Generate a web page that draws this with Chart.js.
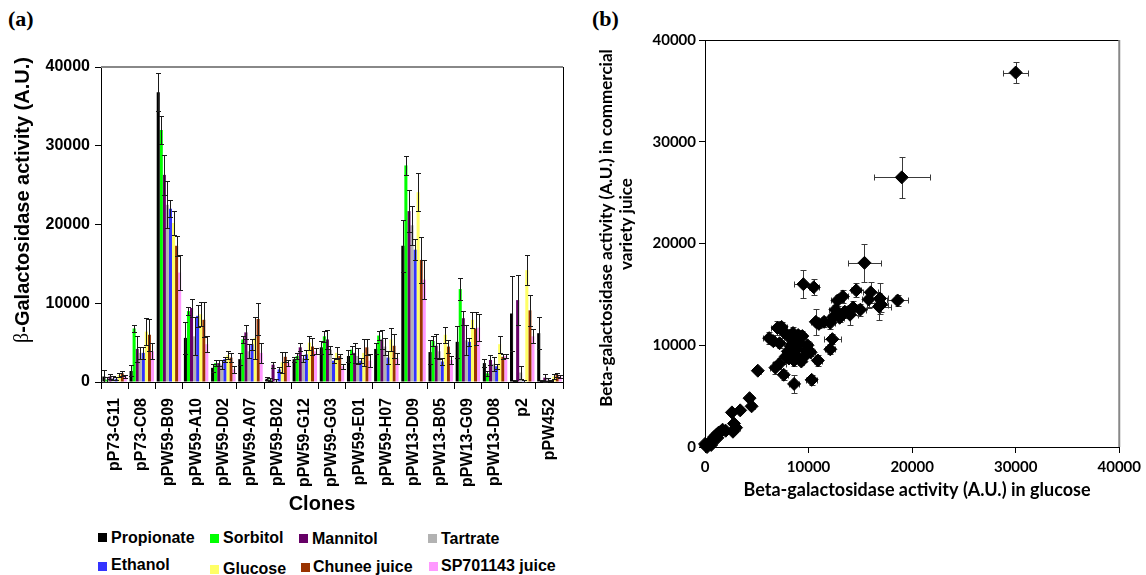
<!DOCTYPE html>
<html>
<head>
<meta charset="utf-8">
<script src="https://cdn.jsdelivr.net/npm/chart.js@4.4.1/dist/chart.umd.min.js"></script>
<style>
  body { margin: 0; background: #fff; width: 1146px; height: 575px; position: relative; overflow: hidden; }
  canvas { position: absolute; top: 0; }
  #chartA { left: 0; }
  #chartB { left: 580px; }
  .panel { position: absolute; top: 6px; font: bold 22px "Liberation Serif", "Times New Roman", serif; }
  .legend-item { position: absolute; font: bold 16px "Liberation Sans", Arial, sans-serif; line-height: 16px; white-space: nowrap; }
  .swatch { position: absolute; width: 9px; height: 9px; }
</style>
</head>
<body>
<div class="panel" style="left:8px">(a)</div>
<div class="panel" style="left:592px">(b)</div>
<canvas id="chartA" width="580" height="520"></canvas>
<canvas id="chartB" width="566" height="520"></canvas>
<div id="legendA"></div>
<script>
// Panel (a): clones and carbon sources
const clones = ['pP73-G11', 'pP73-C08', 'pPW59-B09', 'pPW59-A10', 'pPW59-D02', 'pPW59-A07', 'pPW59-B02',
    'pPW59-G12', 'pPW59-G03', 'pPW59-E01', 'pPW59-H07', 'pPW13-D09', 'pPW13-B05', 'pPW13-G09', 'pPW13-D08', 'p2', 'pPW452'];
const sources = ['Propionate', 'Sorbitol', 'Mannitol', 'Tartrate', 'Ethanol', 'Glucose', 'Chunee juice', 'SP701143 juice'];
const sourceColors = ['#000000', '#00ff00', '#660066', '#b2b2b2', '#3333ff', '#ffff66', '#993300', '#ff99ff'];

const propionate    = [700, 1400, 36800, 5600, 1800, 2900, 400, 2900, 4400, 3300, 4200, 17300, 3800, 5100, 2400, 8700, 6200];
const propionateErr = [800, 700, 2400, 2000, 500, 800, 200, 300, 800, 800, 700, 3300, 1500, 2000, 500, 4700, 2000];
const sorbitol      = [300, 6800, 32000, 9000, 2400, 5400, 300, 3300, 5800, 4100, 5900, 27500, 5200, 11800, 1100, 200, 200];
const sorbitolErr   = [300, 400, 1800, 500, 400, 500, 200, 400, 700, 500, 600, 1200, 600, 1400, 300, 100, 100];
const mannitol      = [700, 4200, 26300, 9400, 2400, 6300, 2200, 4400, 5400, 3700, 5400, 21700, 4600, 8100, 2800, 10400, 550];
const mannitolErr   = [300, 1600, 2500, 1200, 400, 900, 400, 500, 1200, 1300, 1200, 2700, 1500, 900, 600, 3200, 500];
const tartrate      = [500, 3700, 22500, 5800, 2200, 3900, 200, 3000, 4100, 3300, 4500, 19900, 3900, 5300, 2300, 1200, 350];
const tartrateErr   = [300, 800, 3000, 2400, 600, 900, 200, 400, 500, 1000, 1100, 2500, 1000, 1900, 900, 800, 200];
const ethanol       = [400, 3700, 22000, 8400, 2900, 4800, 1600, 3500, 2700, 2700, 3100, 16800, 2600, 5100, 2000, 100, 200];
const ethanolErr    = [200, 800, 1100, 1400, 300, 700, 300, 600, 300, 300, 800, 1300, 500, 500, 300, 100, 100];
const glucose       = [900, 6400, 20200, 8600, 3400, 5600, 2500, 5000, 3700, 3700, 5400, 24100, 6000, 7900, 4800, 14200, 700];
const glucoseErr    = [300, 1700, 1500, 1500, 500, 2700, 1300, 900, 800, 1700, 1400, 2400, 1000, 1000, 1100, 1900, 300];
const chunee        = [1100, 6000, 17300, 7900, 3100, 8000, 3200, 4500, 3300, 4400, 4600, 15500, 4500, 6800, 3200, 9100, 900];
const chuneeErr     = [300, 2000, 1300, 2200, 600, 2000, 600, 1100, 300, 1000, 1500, 2900, 800, 2100, 300, 2000, 300];
const sp701143      = [700, 3900, 13900, 4800, 1600, 3700, 2400, 3900, 2000, 2700, 3000, 13000, 2800, 6900, 3300, 5800, 700];
const sp701143Err   = [200, 1000, 2200, 1000, 400, 1300, 400, 400, 300, 800, 700, 2500, 500, 1700, 200, 900, 200];

const seriesValues = [propionate, sorbitol, mannitol, tartrate, ethanol, glucose, chunee, sp701143];
const seriesErrors = [propionateErr, sorbitolErr, mannitolErr, tartrateErr, ethanolErr, glucoseErr, chuneeErr, sp701143Err];
const activityTicks = [0, 10000, 20000, 30000, 40000];

// Panel (b): glucose vs commercial juice, one point per clone
const glucoseX = [30000, 19000, 15400, 9500, 10500, 18600, 16900, 15800, 14600, 16000, 12800, 16800, 14000, 13500, 14300,
    12600, 11500, 10700, 12100, 13000, 15000, 12300, 12100, 10900, 10300, 8600, 7600, 6800, 7200, 5100,
    6200, 7000, 7400, 7200, 8100, 8600, 9100, 8300, 8000, 8800, 8600, 9600, 9700, 9400, 7800,
    9900, 8500, 9000, 6600, 8800, 4300, 4500, 3400, 2600, 3000, 2800, 1700, 1300, 900, 500,
    100, 300, 700, 1100, 1500, 200, 0, 600, 2000, 1200, 11000, 13300, 17000, 12400, 9300,
    8100, 10200, 7600, 8400, 2700];
const juiceY = [36800, 26500, 18100, 16000, 15700, 14400, 14600, 14500, 15400, 15200, 14400, 13800, 13000, 13300, 13700,
    13500, 12300, 12300, 12200, 12700, 13500, 10600, 9600, 8500, 6600, 6200, 7100, 7800, 8200, 7500,
    10700, 11700, 11800, 10200, 10800, 10500, 10200, 9900, 9400, 9000, 8500, 8900, 9500, 10900, 8900,
    10000, 11200, 11000, 10400, 9600, 4800, 4000, 3600, 3400, 1900, 2300, 1700, 1400, 1000, 500,
    100, 300, 700, 1200, 1500, 0, 300, 200, 1600, 900, 12100, 14800, 14000, 12800, 8400,
    8700, 9300, 11300, 10100, 1500];
const glucoseXErr = [1200, 2700, 1600, 900, 500, 1000, 800, 600, 500, 700, 600, 1200, 800, 600, 500,
    600, 600, 500, 500, 400, 500, 800, 500, 400, 500, 500, 400, 500, 600, 300,
    600, 600, 500, 400, 500, 600, 400, 500, 300, 300, 500, 600, 400, 400, 400,
    400, 500, 400, 400, 400, 300, 300, 300, 200, 400, 300, 200, 200, 100, 100,
    50, 100, 100, 100, 100, 50, 50, 100, 200, 100, 400, 500, 700, 500, 300,
    300, 400, 400, 300, 200];
const juiceYErr = [1000, 2000, 1900, 1400, 800, 500, 1500, 800, 700, 1000, 500, 1300, 1000, 600, 600,
    500, 500, 1300, 600, 400, 600, 500, 500, 500, 500, 900, 500, 600, 500, 300,
    600, 700, 500, 500, 800, 600, 600, 600, 500, 500, 500, 500, 400, 500, 500,
    400, 600, 500, 400, 400, 300, 300, 200, 200, 300, 300, 200, 200, 100, 100,
    50, 100, 100, 100, 100, 50, 50, 100, 200, 100, 400, 600, 700, 400, 300,
    300, 400, 400, 300, 200];

const SANS = '"Liberation Sans", Arial, sans-serif';
const CAL = 'Lato, "Open Sans", sans-serif';
const plainNumber = v => String(v);

// Legend for panel (a), two rows of four
const legendSlots = [
    [98, 533, 111, 530], [210, 534, 223, 530], [299, 534, 312, 531], [428, 534, 441, 531],
    [98, 562, 111, 557], [210, 565, 223, 561], [301, 563, 313, 559], [429, 562, 441, 558]
];
const legendBox = document.getElementById('legendA');
sources.forEach((name, i) => {
    const [mx, my, tx, ty] = legendSlots[i];
    legendBox.innerHTML += `<div class="swatch" style="left:${mx}px;top:${my}px;background:${sourceColors[i]}"></div>` +
        `<div class="legend-item" style="left:${tx}px;top:${ty}px">${name}</div>`;
});

// Draw rotated text made of differently styled parts, centred on (cx, cy)
function drawVertical(ctx, parts, cx, cy) {
    ctx.save();
    ctx.translate(cx, cy);
    ctx.rotate(-Math.PI / 2);
    let total = 0;
    parts.forEach(p => { ctx.font = p.font; p.w = ctx.measureText(p.text).width; total += p.w; });
    let x = -total / 2;
    ctx.textBaseline = 'middle';
    ctx.textAlign = 'left';
    ctx.fillStyle = '#000';
    parts.forEach(p => { ctx.font = p.font; ctx.fillText(p.text, x, 0); x += p.w; });
    ctx.restore();
}

const panelADecor = {
    id: 'panelADecor',
    afterDatasetsDraw(chart) {
        const { ctx, scales: { y } } = chart;
        ctx.save();
        ctx.strokeStyle = '#1a1a1a';
        ctx.lineWidth = 1;
        chart.data.datasets.forEach((ds, i) => {
            const meta = chart.getDatasetMeta(i);
            meta.data.forEach((bar, j) => {
                const v = ds.data[j], e = ds.errors[j];
                const x = Math.round(bar.x) + 0.5;
                const yt = Math.round(y.getPixelForValue(v + e)) + 0.5;
                const yb = Math.round(y.getPixelForValue(Math.max(v - e, 0))) + 0.5;
                ctx.beginPath();
                ctx.moveTo(x, yt); ctx.lineTo(x, yb);
                ctx.moveTo(x - 2.5, yt); ctx.lineTo(x + 2.5, yt);
                ctx.moveTo(x - 2.5, yb); ctx.lineTo(x + 2.5, yb);
                ctx.stroke();
            });
        });
        ctx.restore();
    },
    afterDraw(chart) {
        const { ctx, chartArea: a } = chart;
        ctx.save();
        ctx.lineWidth = 2;
        ctx.strokeStyle = '#888';
        ctx.beginPath(); ctx.moveTo(a.left, a.top); ctx.lineTo(a.right, a.top); ctx.stroke();
        ctx.lineWidth = 1;
        ctx.strokeStyle = '#000';
        ctx.beginPath(); ctx.moveTo(a.right + 0.5, a.top); ctx.lineTo(a.right + 0.5, a.bottom); ctx.stroke();
        ctx.restore();
        drawVertical(ctx, [
            { text: 'β', font: '20px "Liberation Serif", serif' },
            { text: '-Galactosidase activity (A.U.)', font: 'bold 20px ' + SANS }
        ], 23, 200);
        ctx.save();
        ctx.font = 'bold 20px ' + SANS;
        ctx.textAlign = 'center';
        ctx.textBaseline = 'middle';
        ctx.fillText('Clones', 322, 504);
        ctx.restore();
    }
};

new Chart(document.getElementById('chartA'), {
    type: 'bar',
    data: {
        labels: clones,
        datasets: sources.map((name, i) => ({
            label: name,
            data: seriesValues[i],
            errors: seriesErrors[i],
            backgroundColor: sourceColors[i],
            borderWidth: 0,
            categoryPercentage: 0.9,
            barPercentage: 1.0
        }))
    },
    options: {
        responsive: false,
        animation: false,
        events: [],
        devicePixelRatio: 1,
        layout: { padding: { top: 67, right: 17, left: 0, bottom: 0 } },
        plugins: { legend: { display: false }, tooltip: { enabled: false } },
        scales: {
            x: {
                grid: { offset: true, drawOnChartArea: false, drawTicks: true, tickLength: 7, color: '#000' },
                border: { color: '#000' },
                ticks: { font: { family: SANS, size: 16, weight: 'bold' }, color: '#000',
                    minRotation: 90, maxRotation: 90, autoSkip: false, padding: 9 },
                afterFit: s => { s.height = 138; }
            },
            y: {
                min: 0, max: 40000,
                afterBuildTicks: s => { s.ticks = activityTicks.map(v => ({ value: v })); },
                grid: { drawOnChartArea: false, drawTicks: true, tickLength: 6, color: '#000' },
                border: { color: '#000' },
                ticks: { font: { family: SANS, size: 16, weight: 'bold' }, color: '#000', padding: 5, callback: plainNumber },
                afterFit: s => { s.width = 101; }
            }
        }
    },
    plugins: [panelADecor]
});

const panelBDecor = {
    id: 'panelBDecor',
    beforeDatasetsDraw(chart) {
        const { ctx, scales: { x, y } } = chart;
        ctx.save();
        ctx.strokeStyle = '#3a3a3a';
        ctx.lineWidth = 1;
        glucoseX.forEach((gx, i) => {
            const px = Math.round(x.getPixelForValue(gx)) + 0.5;
            const py = Math.round(y.getPixelForValue(juiceY[i])) + 0.5;
            const x0 = Math.round(x.getPixelForValue(gx - glucoseXErr[i])) + 0.5;
            const x1 = Math.round(x.getPixelForValue(gx + glucoseXErr[i])) + 0.5;
            const y0 = Math.round(y.getPixelForValue(juiceY[i] - juiceYErr[i])) + 0.5;
            const y1 = Math.round(y.getPixelForValue(juiceY[i] + juiceYErr[i])) + 0.5;
            ctx.beginPath();
            ctx.moveTo(x0, py); ctx.lineTo(x1, py);
            ctx.moveTo(x0, py - 3); ctx.lineTo(x0, py + 3);
            ctx.moveTo(x1, py - 3); ctx.lineTo(x1, py + 3);
            ctx.moveTo(px, y0); ctx.lineTo(px, y1);
            ctx.moveTo(px - 3, y0); ctx.lineTo(px + 3, y0);
            ctx.moveTo(px - 3, y1); ctx.lineTo(px + 3, y1);
            ctx.stroke();
        });
        ctx.restore();
    },
    afterDraw(chart) {
        const { ctx, chartArea: a } = chart;
        ctx.save();
        ctx.lineWidth = 1;
        ctx.strokeStyle = '#000';
        ctx.beginPath(); ctx.moveTo(a.left, a.top + 0.5); ctx.lineTo(a.right, a.top + 0.5); ctx.stroke();
        ctx.strokeStyle = '#888';
        ctx.lineWidth = 2;
        ctx.beginPath(); ctx.moveTo(a.right, a.top); ctx.lineTo(a.right, a.bottom); ctx.stroke();
        ctx.restore();
        const f = 'bold 17px ' + CAL;
        drawVertical(ctx, [{ text: 'Beta-galactosidase activity (A.U.) in commercial', font: f }], 27, 228);
        drawVertical(ctx, [{ text: 'variety juice', font: f }], 47, 224);
        ctx.save();
        ctx.font = 'bold 18px ' + CAL;
        ctx.textAlign = 'center';
        ctx.textBaseline = 'middle';
        ctx.fillStyle = '#000';
        ctx.fillText('Beta-galactosidase activity (A.U.) in glucose', 337, 490);
        ctx.restore();
    }
};

new Chart(document.getElementById('chartB'), {
    type: 'scatter',
    data: {
        datasets: [{
            data: glucoseX.map((gx, i) => ({ x: gx, y: juiceY[i] })),
            pointStyle: 'rectRot',
            radius: 6.5,
            backgroundColor: '#000',
            borderColor: '#000',
            borderWidth: 1,
            clip: false
        }]
    },
    options: {
        responsive: false,
        animation: false,
        events: [],
        devicePixelRatio: 1,
        layout: { padding: { top: 40, right: 22, left: 0, bottom: 0 } },
        plugins: { legend: { display: false }, tooltip: { enabled: false } },
        scales: {
            x: {
                min: 0, max: 40000,
                afterBuildTicks: s => { s.ticks = activityTicks.map(v => ({ value: v })); },
                grid: { drawOnChartArea: false, drawTicks: true, tickLength: 6, color: '#000' },
                border: { color: '#000' },
                ticks: { font: { family: CAL, size: 15, weight: 'bold' }, color: '#000', padding: 5, maxRotation: 0, callback: plainNumber },
                afterFit: s => { s.height = 73; }
            },
            y: {
                min: 0, max: 40000,
                afterBuildTicks: s => { s.ticks = activityTicks.map(v => ({ value: v })); },
                grid: { drawOnChartArea: false, drawTicks: true, tickLength: 6, color: '#000' },
                border: { color: '#000' },
                ticks: { font: { family: CAL, size: 15, weight: 'bold' }, color: '#000', padding: 3, callback: plainNumber },
                afterFit: s => { s.width = 125; }
            }
        }
    },
    plugins: [panelBDecor]
});
</script>
</body>
</html>
